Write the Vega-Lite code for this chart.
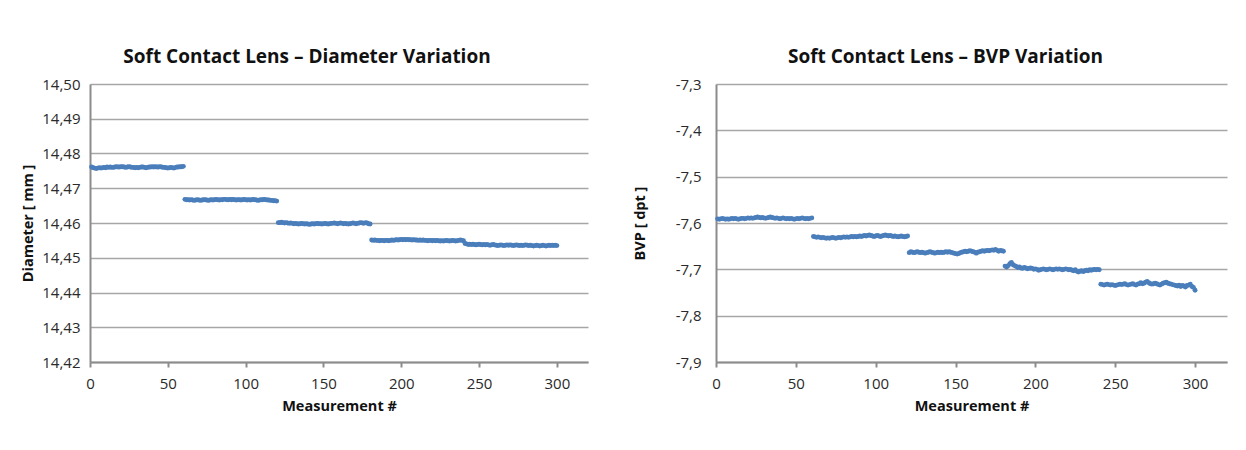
{
"$schema": "https://vega.github.io/schema/vega-lite/v6.json",
"background": "white",
"padding": {"left": 20, "top": 48, "right": 5, "bottom": 5},
"spacing": 44,
"config": {
  "font": "Open Sans",
  "view": {"stroke": null},
  "title": {"font": "Open Sans", "fontSize": 19, "fontWeight": "bold", "color": "#111111", "offset": 10, "anchor": "middle"},
  "axis": {"labelFont": "Open Sans", "labelFontSize": 15, "labelColor": "#2a2a2a", "titleFont": "Open Sans", "titleFontSize": 14.5, "titleFontWeight": "bold", "titleColor": "#111111", "domainColor": "#8c8c8c", "domainWidth": 2, "tickColor": "#8c8c8c", "tickWidth": 2, "gridColor": "#a6a6a6", "gridWidth": 1.5}
},
"data": {"values": [
{"m":1,"d":14.4761,"b":-7.591},{"m":2,"d":14.4759,"b":-7.592},{"m":3,"d":14.4758,"b":-7.591},{"m":4,"d":14.4757,"b":-7.590},{"m":5,"d":14.4758,"b":-7.591},{"m":6,"d":14.4759,"b":-7.592},{"m":7,"d":14.4758,"b":-7.591},{"m":8,"d":14.4759,"b":-7.592},{"m":9,"d":14.4760,"b":-7.591},{"m":10,"d":14.4759,"b":-7.590},
{"m":11,"d":14.4761,"b":-7.591},{"m":12,"d":14.4760,"b":-7.590},{"m":13,"d":14.4761,"b":-7.591},{"m":14,"d":14.4760,"b":-7.592},{"m":15,"d":14.4760,"b":-7.591},{"m":16,"d":14.4761,"b":-7.590},{"m":17,"d":14.4762,"b":-7.590},{"m":18,"d":14.4761,"b":-7.591},{"m":19,"d":14.4761,"b":-7.590},{"m":20,"d":14.4762,"b":-7.589},
{"m":21,"d":14.4762,"b":-7.590},{"m":22,"d":14.4761,"b":-7.589},{"m":23,"d":14.4760,"b":-7.590},{"m":24,"d":14.4761,"b":-7.589},{"m":25,"d":14.4762,"b":-7.588},{"m":26,"d":14.4761,"b":-7.587},{"m":27,"d":14.4760,"b":-7.588},{"m":28,"d":14.4760,"b":-7.589},{"m":29,"d":14.4759,"b":-7.588},{"m":30,"d":14.4760,"b":-7.589},
{"m":31,"d":14.4759,"b":-7.590},{"m":32,"d":14.4760,"b":-7.589},{"m":33,"d":14.4761,"b":-7.588},{"m":34,"d":14.4761,"b":-7.587},{"m":35,"d":14.4760,"b":-7.588},{"m":36,"d":14.4759,"b":-7.589},{"m":37,"d":14.4760,"b":-7.590},{"m":38,"d":14.4761,"b":-7.589},{"m":39,"d":14.4761,"b":-7.590},{"m":40,"d":14.4762,"b":-7.591},
{"m":41,"d":14.4761,"b":-7.590},{"m":42,"d":14.4762,"b":-7.589},{"m":43,"d":14.4761,"b":-7.590},{"m":44,"d":14.4761,"b":-7.591},{"m":45,"d":14.4762,"b":-7.590},{"m":46,"d":14.4761,"b":-7.591},{"m":47,"d":14.4760,"b":-7.590},{"m":48,"d":14.4760,"b":-7.591},{"m":49,"d":14.4759,"b":-7.592},{"m":50,"d":14.4758,"b":-7.591},
{"m":51,"d":14.4759,"b":-7.590},{"m":52,"d":14.4760,"b":-7.591},{"m":53,"d":14.4759,"b":-7.590},{"m":54,"d":14.4758,"b":-7.589},{"m":55,"d":14.4760,"b":-7.590},{"m":56,"d":14.4761,"b":-7.591},{"m":57,"d":14.4761,"b":-7.590},{"m":58,"d":14.4762,"b":-7.591},{"m":59,"d":14.4762,"b":-7.590},{"m":60,"d":14.4763,"b":-7.589},
{"m":61,"d":14.4668,"b":-7.629},{"m":62,"d":14.4667,"b":-7.630},{"m":63,"d":14.4667,"b":-7.631},{"m":64,"d":14.4666,"b":-7.630},{"m":65,"d":14.4667,"b":-7.631},{"m":66,"d":14.4666,"b":-7.632},{"m":67,"d":14.4665,"b":-7.631},{"m":68,"d":14.4666,"b":-7.632},{"m":69,"d":14.4667,"b":-7.633},{"m":70,"d":14.4666,"b":-7.632},
{"m":71,"d":14.4665,"b":-7.633},{"m":72,"d":14.4666,"b":-7.632},{"m":73,"d":14.4667,"b":-7.631},{"m":74,"d":14.4667,"b":-7.632},{"m":75,"d":14.4666,"b":-7.633},{"m":76,"d":14.4665,"b":-7.632},{"m":77,"d":14.4666,"b":-7.631},{"m":78,"d":14.4667,"b":-7.632},{"m":79,"d":14.4666,"b":-7.631},{"m":80,"d":14.4667,"b":-7.630},
{"m":81,"d":14.4668,"b":-7.631},{"m":82,"d":14.4667,"b":-7.630},{"m":83,"d":14.4666,"b":-7.631},{"m":84,"d":14.4667,"b":-7.630},{"m":85,"d":14.4667,"b":-7.629},{"m":86,"d":14.4668,"b":-7.630},{"m":87,"d":14.4668,"b":-7.629},{"m":88,"d":14.4667,"b":-7.630},{"m":89,"d":14.4667,"b":-7.629},{"m":90,"d":14.4668,"b":-7.628},
{"m":91,"d":14.4667,"b":-7.629},{"m":92,"d":14.4668,"b":-7.628},{"m":93,"d":14.4667,"b":-7.627},{"m":94,"d":14.4666,"b":-7.628},{"m":95,"d":14.4667,"b":-7.627},{"m":96,"d":14.4667,"b":-7.626},{"m":97,"d":14.4666,"b":-7.627},{"m":98,"d":14.4667,"b":-7.628},{"m":99,"d":14.4668,"b":-7.629},{"m":100,"d":14.4667,"b":-7.628},
{"m":101,"d":14.4666,"b":-7.627},{"m":102,"d":14.4667,"b":-7.628},{"m":103,"d":14.4666,"b":-7.629},{"m":104,"d":14.4667,"b":-7.628},{"m":105,"d":14.4668,"b":-7.627},{"m":106,"d":14.4667,"b":-7.626},{"m":107,"d":14.4666,"b":-7.627},{"m":108,"d":14.4665,"b":-7.628},{"m":109,"d":14.4666,"b":-7.627},{"m":110,"d":14.4667,"b":-7.628},
{"m":111,"d":14.4667,"b":-7.629},{"m":112,"d":14.4668,"b":-7.628},{"m":113,"d":14.4667,"b":-7.629},{"m":114,"d":14.4666,"b":-7.630},{"m":115,"d":14.4666,"b":-7.629},{"m":116,"d":14.4665,"b":-7.628},{"m":117,"d":14.4665,"b":-7.629},{"m":118,"d":14.4664,"b":-7.630},{"m":119,"d":14.4664,"b":-7.629},{"m":120,"d":14.4663,"b":-7.628},
{"m":121,"d":14.4601,"b":-7.664},{"m":122,"d":14.4601,"b":-7.662},{"m":123,"d":14.4602,"b":-7.663},{"m":124,"d":14.4601,"b":-7.664},{"m":125,"d":14.4600,"b":-7.663},{"m":126,"d":14.4601,"b":-7.662},{"m":127,"d":14.4600,"b":-7.663},{"m":128,"d":14.4599,"b":-7.664},{"m":129,"d":14.4600,"b":-7.663},{"m":130,"d":14.4599,"b":-7.664},
{"m":131,"d":14.4598,"b":-7.665},{"m":132,"d":14.4599,"b":-7.664},{"m":133,"d":14.4598,"b":-7.663},{"m":134,"d":14.4597,"b":-7.662},{"m":135,"d":14.4598,"b":-7.663},{"m":136,"d":14.4599,"b":-7.664},{"m":137,"d":14.4598,"b":-7.665},{"m":138,"d":14.4597,"b":-7.664},{"m":139,"d":14.4598,"b":-7.663},{"m":140,"d":14.4597,"b":-7.664},
{"m":141,"d":14.4596,"b":-7.663},{"m":142,"d":14.4597,"b":-7.664},{"m":143,"d":14.4598,"b":-7.663},{"m":144,"d":14.4597,"b":-7.662},{"m":145,"d":14.4598,"b":-7.663},{"m":146,"d":14.4599,"b":-7.662},{"m":147,"d":14.4598,"b":-7.663},{"m":148,"d":14.4598,"b":-7.664},{"m":149,"d":14.4597,"b":-7.665},{"m":150,"d":14.4598,"b":-7.666},
{"m":151,"d":14.4599,"b":-7.667},{"m":152,"d":14.4598,"b":-7.666},{"m":153,"d":14.4597,"b":-7.664},{"m":154,"d":14.4598,"b":-7.663},{"m":155,"d":14.4599,"b":-7.662},{"m":156,"d":14.4599,"b":-7.661},{"m":157,"d":14.4600,"b":-7.662},{"m":158,"d":14.4599,"b":-7.661},{"m":159,"d":14.4598,"b":-7.660},{"m":160,"d":14.4599,"b":-7.661},
{"m":161,"d":14.4600,"b":-7.662},{"m":162,"d":14.4599,"b":-7.663},{"m":163,"d":14.4598,"b":-7.665},{"m":164,"d":14.4599,"b":-7.663},{"m":165,"d":14.4598,"b":-7.662},{"m":166,"d":14.4597,"b":-7.661},{"m":167,"d":14.4598,"b":-7.660},{"m":168,"d":14.4599,"b":-7.661},{"m":169,"d":14.4600,"b":-7.660},{"m":170,"d":14.4599,"b":-7.659},
{"m":171,"d":14.4598,"b":-7.660},{"m":172,"d":14.4599,"b":-7.659},{"m":173,"d":14.4600,"b":-7.658},{"m":174,"d":14.4601,"b":-7.659},{"m":175,"d":14.4600,"b":-7.657},{"m":176,"d":14.4599,"b":-7.659},{"m":177,"d":14.4601,"b":-7.661},{"m":178,"d":14.4600,"b":-7.659},{"m":179,"d":14.4598,"b":-7.660},{"m":180,"d":14.4597,"b":-7.661},
{"m":181,"d":14.4551,"b":-7.693},{"m":182,"d":14.4550,"b":-7.695},{"m":183,"d":14.4551,"b":-7.692},{"m":184,"d":14.4550,"b":-7.688},{"m":185,"d":14.4550,"b":-7.685},{"m":186,"d":14.4549,"b":-7.690},{"m":187,"d":14.4550,"b":-7.692},{"m":188,"d":14.4550,"b":-7.694},{"m":189,"d":14.4549,"b":-7.696},{"m":190,"d":14.4550,"b":-7.695},
{"m":191,"d":14.4550,"b":-7.697},{"m":192,"d":14.4549,"b":-7.698},{"m":193,"d":14.4550,"b":-7.696},{"m":194,"d":14.4551,"b":-7.697},{"m":195,"d":14.4550,"b":-7.699},{"m":196,"d":14.4551,"b":-7.698},{"m":197,"d":14.4552,"b":-7.697},{"m":198,"d":14.4551,"b":-7.698},{"m":199,"d":14.4552,"b":-7.700},{"m":200,"d":14.4553,"b":-7.699},
{"m":201,"d":14.4552,"b":-7.700},{"m":202,"d":14.4553,"b":-7.702},{"m":203,"d":14.4552,"b":-7.701},{"m":204,"d":14.4553,"b":-7.700},{"m":205,"d":14.4552,"b":-7.699},{"m":206,"d":14.4552,"b":-7.700},{"m":207,"d":14.4551,"b":-7.701},{"m":208,"d":14.4552,"b":-7.700},{"m":209,"d":14.4551,"b":-7.699},{"m":210,"d":14.4551,"b":-7.700},
{"m":211,"d":14.4550,"b":-7.701},{"m":212,"d":14.4551,"b":-7.700},{"m":213,"d":14.4550,"b":-7.699},{"m":214,"d":14.4551,"b":-7.700},{"m":215,"d":14.4550,"b":-7.699},{"m":216,"d":14.4550,"b":-7.700},{"m":217,"d":14.4549,"b":-7.701},{"m":218,"d":14.4550,"b":-7.700},{"m":219,"d":14.4550,"b":-7.699},{"m":220,"d":14.4549,"b":-7.700},
{"m":221,"d":14.4550,"b":-7.701},{"m":222,"d":14.4549,"b":-7.700},{"m":223,"d":14.4550,"b":-7.702},{"m":224,"d":14.4549,"b":-7.703},{"m":225,"d":14.4548,"b":-7.701},{"m":226,"d":14.4549,"b":-7.704},{"m":227,"d":14.4548,"b":-7.706},{"m":228,"d":14.4549,"b":-7.704},{"m":229,"d":14.4550,"b":-7.703},{"m":230,"d":14.4549,"b":-7.705},
{"m":231,"d":14.4548,"b":-7.703},{"m":232,"d":14.4549,"b":-7.702},{"m":233,"d":14.4550,"b":-7.703},{"m":234,"d":14.4549,"b":-7.701},{"m":235,"d":14.4548,"b":-7.702},{"m":236,"d":14.4549,"b":-7.701},{"m":237,"d":14.4550,"b":-7.700},{"m":238,"d":14.4551,"b":-7.701},{"m":239,"d":14.4550,"b":-7.700},{"m":240,"d":14.4549,"b":-7.701},
{"m":241,"d":14.4541,"b":-7.732},{"m":242,"d":14.4540,"b":-7.733},{"m":243,"d":14.4538,"b":-7.734},{"m":244,"d":14.4539,"b":-7.733},{"m":245,"d":14.4538,"b":-7.732},{"m":246,"d":14.4539,"b":-7.733},{"m":247,"d":14.4538,"b":-7.734},{"m":248,"d":14.4537,"b":-7.733},{"m":249,"d":14.4538,"b":-7.734},{"m":250,"d":14.4539,"b":-7.735},
{"m":251,"d":14.4538,"b":-7.734},{"m":252,"d":14.4537,"b":-7.733},{"m":253,"d":14.4538,"b":-7.732},{"m":254,"d":14.4537,"b":-7.733},{"m":255,"d":14.4538,"b":-7.732},{"m":256,"d":14.4537,"b":-7.731},{"m":257,"d":14.4536,"b":-7.733},{"m":258,"d":14.4537,"b":-7.734},{"m":259,"d":14.4538,"b":-7.733},{"m":260,"d":14.4537,"b":-7.732},
{"m":261,"d":14.4536,"b":-7.731},{"m":262,"d":14.4535,"b":-7.733},{"m":263,"d":14.4536,"b":-7.734},{"m":264,"d":14.4537,"b":-7.732},{"m":265,"d":14.4536,"b":-7.731},{"m":266,"d":14.4535,"b":-7.729},{"m":267,"d":14.4536,"b":-7.731},{"m":268,"d":14.4537,"b":-7.730},{"m":269,"d":14.4536,"b":-7.728},{"m":270,"d":14.4537,"b":-7.726},
{"m":271,"d":14.4536,"b":-7.729},{"m":272,"d":14.4535,"b":-7.731},{"m":273,"d":14.4536,"b":-7.732},{"m":274,"d":14.4537,"b":-7.731},{"m":275,"d":14.4536,"b":-7.730},{"m":276,"d":14.4535,"b":-7.731},{"m":277,"d":14.4536,"b":-7.733},{"m":278,"d":14.4535,"b":-7.734},{"m":279,"d":14.4536,"b":-7.732},{"m":280,"d":14.4537,"b":-7.730},
{"m":281,"d":14.4536,"b":-7.729},{"m":282,"d":14.4535,"b":-7.728},{"m":283,"d":14.4536,"b":-7.730},{"m":284,"d":14.4535,"b":-7.731},{"m":285,"d":14.4534,"b":-7.732},{"m":286,"d":14.4535,"b":-7.733},{"m":287,"d":14.4536,"b":-7.734},{"m":288,"d":14.4535,"b":-7.735},{"m":289,"d":14.4534,"b":-7.736},{"m":290,"d":14.4535,"b":-7.734},
{"m":291,"d":14.4536,"b":-7.737},{"m":292,"d":14.4535,"b":-7.735},{"m":293,"d":14.4534,"b":-7.736},{"m":294,"d":14.4535,"b":-7.738},{"m":295,"d":14.4536,"b":-7.735},{"m":296,"d":14.4535,"b":-7.734},{"m":297,"d":14.4536,"b":-7.732},{"m":298,"d":14.4535,"b":-7.737},{"m":299,"d":14.4536,"b":-7.739},{"m":300,"d":14.4535,"b":-7.745}
]},
"hconcat": [
  {
    "width": 498, "height": 278,
    "title": {"text": "Soft Contact Lens – Diameter Variation", "dx": -32},
    "mark": {"type": "point", "filled": true, "size": 24, "color": "#4a7ebb", "opacity": 1},
    "encoding": {
      "x": {"field": "m", "type": "quantitative", "scale": {"domain": [0, 320], "nice": false},
            "axis": {"values": [0, 50, 100, 150, 200, 250, 300], "grid": false, "title": "Measurement #", "tickSize": 5, "labelPadding": 9, "titlePadding": 8, "labelFlush": false}},
      "y": {"field": "d", "type": "quantitative", "scale": {"domain": [14.42, 14.5], "nice": false, "zero": false},
            "axis": {"values": [14.42, 14.43, 14.44, 14.45, 14.46, 14.47, 14.48, 14.49, 14.5], "labelExpr": "replace(format(datum.value, '.2f'), '.', ',')", "ticks": false, "labelPadding": 10, "title": "Diameter [ mm ]", "titlePadding": 6}}
    }
  },
  {
    "width": 511, "height": 278,
    "title": {"text": "Soft Contact Lens – BVP Variation", "dx": -26},
    "mark": {"type": "point", "filled": true, "size": 24, "color": "#4a7ebb", "opacity": 1},
    "encoding": {
      "x": {"field": "m", "type": "quantitative", "scale": {"domain": [0, 320], "nice": false},
            "axis": {"values": [0, 50, 100, 150, 200, 250, 300], "grid": false, "title": "Measurement #", "tickSize": 5, "labelPadding": 9, "titlePadding": 8, "labelFlush": false}},
      "y": {"field": "b", "type": "quantitative", "scale": {"domain": [-7.9, -7.3], "nice": false, "zero": false},
            "axis": {"values": [-7.9, -7.8, -7.7, -7.6, -7.5, -7.4, -7.3], "labelExpr": "replace(replace(format(datum.value, '.1f'), '.', ','), '\u2212', '-')", "ticks": false, "labelPadding": 15, "title": "BVP [ dpt ]", "titlePadding": 28}}
    }
  }
]
}
